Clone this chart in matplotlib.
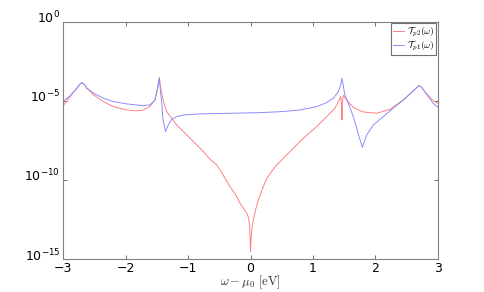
import numpy as np
import matplotlib
matplotlib.use("Agg")
import matplotlib.pyplot as plt
from matplotlib.font_manager import FontProperties
from matplotlib.transforms import ScaledTranslation

# values (omega in eV, log10 of transmission)
w_p2 = [-3.00, -2.89, -2.78, -2.73, -2.70, -2.66, -2.62, -2.51, -2.355, -2.195,
        -1.98, -1.82, -1.715, -1.61, -1.53, -1.49, -1.475, -1.46, -1.44, -1.42,
        -1.37, -1.34, -1.29, -1.18, -1.075, -0.915, -0.755, -0.648, -0.54, -0.45,
        -0.33, -0.25, -0.20, -0.168, -0.12, -0.06, -0.03, -0.015, -0.005, 0.0,
        0.01, 0.025, 0.045, 0.08, 0.125, 0.205, 0.26, 0.34, 0.42, 0.52,
        0.632, 0.845, 1.06, 1.22, 1.352, 1.42, 1.443, 1.458, 1.464, 1.470,
        1.485, 1.54, 1.645, 1.752, 1.805, 2.02, 2.232, 2.445, 2.605, 2.67,
        2.70, 2.74, 2.82, 2.925, 3.00]
log_p2 = [-5.32, -4.73, -4.20, -3.95, -3.84, -3.96, -4.20, -4.62, -5.04, -5.36,
          -5.57, -5.63, -5.57, -5.36, -4.94, -4.30, -3.95, -3.50, -4.10, -4.55,
          -5.36, -5.67, -5.95, -6.52, -6.94, -7.57, -8.20, -8.69, -9.05, -9.60,
          -10.42, -10.85, -11.20, -11.47, -11.75, -12.10, -12.40, -12.90, -13.80, -14.55,
          -13.70, -13.00, -12.53, -11.90, -11.27, -10.42, -9.90, -9.45, -9.05, -8.65,
          -8.20, -7.36, -6.62, -5.99, -5.46, -4.94, -4.73, -5.20, -6.20, -5.10,
          -4.64, -4.95, -5.40, -5.61, -5.70, -5.78, -5.53, -4.94, -4.37, -4.12,
          -4.03, -4.15, -4.56, -4.98, -5.15]

w_p1 = [-3.00, -2.89, -2.78, -2.73, -2.70, -2.66, -2.62, -2.51, -2.355, -2.195,
        -1.98, -1.715, -1.61, -1.53, -1.49, -1.475, -1.46, -1.44, -1.42, -1.40,
        -1.37, -1.36, -1.315, -1.26, -1.18, -1.075, -0.808, -0.54, 0.152, 0.525,
        0.792, 1.06, 1.22, 1.325, 1.405, 1.44, 1.464, 1.49, 1.51, 1.54,
        1.59, 1.645, 1.70, 1.725, 1.76, 1.79, 1.86, 1.965, 2.125, 2.285, 2.445,
        2.605, 2.67, 2.70, 2.74, 2.82, 2.925, 3.00]
log_p1 = [-5.04, -4.68, -4.20, -3.95, -3.84, -3.96, -4.18, -4.51, -4.83, -5.04,
          -5.19, -5.30, -5.25, -4.94, -4.20, -3.90, -3.56, -4.40, -5.15, -6.20,
          -6.73, -6.94, -6.52, -6.16, -5.99, -5.89, -5.82, -5.80, -5.74, -5.67,
          -5.57, -5.36, -5.10, -4.83, -4.41, -4.05, -3.56, -4.15, -4.62, -4.90,
          -5.40, -6.00, -6.70, -7.10, -7.55, -7.93, -7.15, -6.52, -5.99, -5.46, -4.94,
          -4.37, -4.12, -4.03, -4.15, -4.60, -5.15, -5.40]

labels = [r"$\mathcal{T}_{p2}(\omega)$", r"$\mathcal{T}_{p1}(\omega)$"]

fig = plt.figure(figsize=(4.85, 2.92), dpi=100)
ax = fig.add_axes([0.130, 0.113, 0.773, 0.812])

ax.plot(w_p2, 10.0 ** np.array(log_p2), color='#ff8080', lw=0.7, label=labels[0])
ax.plot(w_p1, 10.0 ** np.array(log_p1), color='#8c8cff', lw=0.7, label=labels[1])

ax.set_yscale('log')
ax.set_xlim(-3, 3)
ax.set_ylim(1e-15, 1e0)
ax.set_xticks([-3, -2, -1, 0, 1, 2, 3])
ax.set_yticks([1e-15, 1e-10, 1e-5, 1e0])
ax.yaxis.set_minor_locator(matplotlib.ticker.NullLocator())
ax.tick_params(direction='in', top=True, right=True, labelsize=9, length=3,
               color='#555555', width=0.6, pad=2)
for s in ax.spines.values():
    s.set_color('#808080')
    s.set_linewidth(0.8)

# y tick labels sit a little above their ticks, as in the original
shift = ScaledTranslation(0, 5 / 100, fig.dpi_scale_trans)
for lab in ax.get_yticklabels():
    lab.set_transform(lab.get_transform() + shift)

xl = ax.set_xlabel(r"$\omega - \mu_0\ [\mathrm{eV}]$", fontsize=9, labelpad=-1, color='#333333')
xl.set_math_fontfamily('cm')

leg = ax.legend(loc='upper right', prop=FontProperties(size=7, math_fontfamily='cm'),
                fancybox=False, framealpha=1, edgecolor='#707070', borderpad=0.15,
                handlelength=1.2, handletextpad=0.3, labelspacing=0.0, borderaxespad=0.15)
leg.get_frame().set_linewidth(0.8)

fig.savefig('out.png', dpi=100)
